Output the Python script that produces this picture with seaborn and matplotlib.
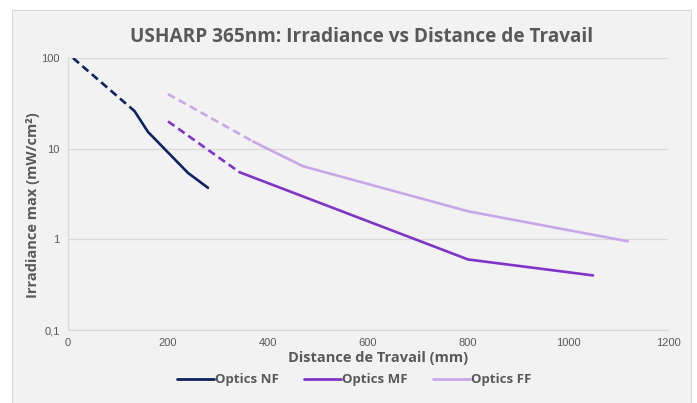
import matplotlib
matplotlib.use("Agg")
import matplotlib.pyplot as plt
import matplotlib.ticker as mticker
from matplotlib.lines import Line2D
from matplotlib.patches import Rectangle
import seaborn as sns
import pandas as pd

# ---- data ----
series_names = ["Optics NF", "Optics MF", "Optics FF"]
nf_x = [10, 133, 160, 240, 280]
nf_y = [100, 26, 15.3, 5.4, 3.7]
mf_x = [200, 343, 800, 1050]
mf_y = [20, 5.5, 0.6, 0.4]
ff_x = [200, 370, 470, 800, 1120]
ff_y = [40, 12, 6.4, 2.04, 0.95]
dashed_upto = [1, 1, 1]  # index of last point of the dashed (extrapolated) part
y_ticks = [0.1, 1, 10, 100]
y_tick_labels = ["0,1", "1", "10", "100"]
x_ticks = [0, 200, 400, 600, 800, 1000, 1200]

colors = ["#0d2260", "#7f35c8", "#c9a8e8"]

sns.set_theme(style="white")
plt.rcParams["font.family"] = ["Lato", "DejaVu Sans"]

fig = plt.figure(figsize=(6.97, 4.03), dpi=100)
fig.patch.set_facecolor("white")
fig.patches.append(Rectangle((12 / 697, -5 / 403), 679 / 697, 398 / 403,
                             transform=fig.transFigure, facecolor="#f2f2f2",
                             edgecolor="#d9d9d9", linewidth=0.8, zorder=-10))

ax = fig.add_axes([68 / 697, 1 - 330 / 403, 600 / 697, 272 / 403])
ax.set_facecolor("#f2f2f2")

all_x = [nf_x, mf_x, ff_x]
all_y = [nf_y, mf_y, ff_y]
for name, xs, ys, c, k in zip(series_names, all_x, all_y, colors, dashed_upto):
    df_d = pd.DataFrame({"x": xs[:k + 1], "y": ys[:k + 1]})
    df_s = pd.DataFrame({"x": xs[k:], "y": ys[k:]})
    sns.lineplot(data=df_d, x="x", y="y", ax=ax, color=c, lw=1.9,
                 linestyle=(0, (3.0, 1.7)), sort=False, estimator=None)
    sns.lineplot(data=df_s, x="x", y="y", ax=ax, color=c, lw=1.9,
                 sort=False, estimator=None)

ax.set_yscale("log")
ax.set_ylim(0.1, 100)
ax.set_xlim(0, 1200)
ax.set_yticks(y_ticks)
ax.set_yticklabels(y_tick_labels)
ax.yaxis.set_minor_locator(mticker.NullLocator())
ax.set_xticks(x_ticks)
ax.grid(True, axis="y", color="#d9d9d9", lw=0.9)
ax.grid(False, axis="x")
for s in ["top", "right"]:
    ax.spines[s].set_visible(False)
ax.spines["left"].set_color("#d9d9d9")
ax.spines["bottom"].set_color("#d9d9d9")
ax.spines["left"].set_linewidth(0.9)
ax.spines["bottom"].set_linewidth(0.9)
ax.tick_params(axis="both", length=0, labelsize=8, labelcolor="#595959", pad=6)
for lbl in ax.get_xticklabels() + ax.get_yticklabels():
    lbl.set_fontfamily(["Liberation Sans", "DejaVu Sans"])

ax.set_xlabel("")
ax.set_ylabel("")
fig.text(378 / 697, 1 - 358 / 403, "Distance de Travail (mm)", fontsize=10.5,
         fontweight="bold", color="#595959", ha="center", va="center",
         fontfamily=["Open Sans", "DejaVu Sans"])
fig.text(33 / 697, 1 - 205 / 403, "Irradiance max (mW/cm²)", fontsize=10.5,
         fontweight="bold", color="#595959", ha="center", va="center", rotation=90,
         fontfamily=["Open Sans", "DejaVu Sans"])
fig.text(362 / 697, 1 - 37 / 403, "USHARP 365nm: Irradiance vs Distance de Travail",
         ha="center", va="center", fontsize=13.7, fontweight="bold", color="#595959",
         fontfamily=["Open Sans", "DejaVu Sans"])

handles = [Line2D([0], [0], color=c, lw=2) for c in colors]
leg = fig.legend(handles, series_names, loc="center", bbox_to_anchor=(354 / 697, 1 - 380 / 403),
                 ncol=3, frameon=False, handlelength=2.8, handletextpad=0.1,
                 columnspacing=1.9,
                 prop={"weight": "bold", "size": 9.5, "family": ["Open Sans", "DejaVu Sans"]})
for t in leg.get_texts():
    t.set_color("#595959")

fig.savefig("out.png", dpi=100, facecolor="white")
